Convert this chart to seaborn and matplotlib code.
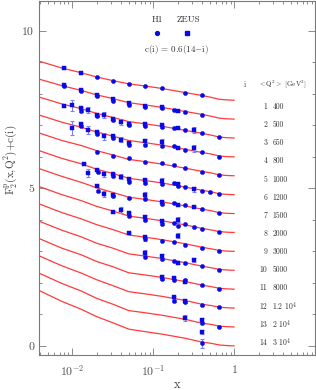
import numpy as np
import pandas as pd
import seaborn as sns
import matplotlib.pyplot as plt
from matplotlib.ticker import FixedLocator, FixedFormatter, LogLocator, MultipleLocator, NullFormatter

# bins: i, <Q^2> label, offset c(i) = 0.6(14-i)
bin_ids = list(range(1, 15))
q2_labels = ['400', '500', '650', '800', '1000', '1200', '1500', '2000', '3000', '5000',
             '8000', r'1.2 10$^4$', r'2 10$^4$', r'3 10$^4$']
offsets = [0.6 * (14 - i) for i in bin_ids]

# fit curves F2(x) (without offset)
fit_x = [0.0039, 0.0075, 0.013, 0.02, 0.032, 0.05, 0.08, 0.13, 0.25, 0.4, 0.52, 0.65, 0.8, 1.0]
fit_1 = [1.24, 1.02, 0.87, 0.74, 0.62, 0.52, 0.45, 0.37, 0.24, 0.15, 0.09, 0.03, 0.01, 0.0]
fit_2 = [1.27, 1.06, 0.91, 0.77, 0.65, 0.52, 0.45, 0.37, 0.24, 0.15, 0.09, 0.03, 0.01, 0.0]
fit_3 = [1.30, 1.08, 0.93, 0.78, 0.65, 0.52, 0.45, 0.37, 0.24, 0.15, 0.09, 0.03, 0.01, 0.0]
fit_4 = [1.33, 1.10, 0.94, 0.79, 0.66, 0.52, 0.45, 0.37, 0.24, 0.14, 0.09, 0.03, 0.01, 0.0]
fit_5 = [1.36, 1.12, 0.96, 0.80, 0.66, 0.52, 0.45, 0.37, 0.24, 0.14, 0.09, 0.03, 0.01, 0.0]
fit_6 = [1.40, 1.15, 0.98, 0.81, 0.67, 0.52, 0.45, 0.37, 0.24, 0.14, 0.09, 0.03, 0.01, 0.0]
fit_7 = [1.43, 1.18, 0.99, 0.82, 0.67, 0.52, 0.45, 0.37, 0.24, 0.14, 0.09, 0.03, 0.01, 0.0]
fit_8 = [1.46, 1.20, 1.01, 0.83, 0.68, 0.52, 0.45, 0.37, 0.24, 0.13, 0.08, 0.03, 0.01, 0.0]
fit_9 = [1.51, 1.23, 1.03, 0.85, 0.69, 0.52, 0.45, 0.37, 0.24, 0.13, 0.08, 0.03, 0.01, 0.0]
fit_10 = [1.56, 1.27, 1.06, 0.86, 0.70, 0.52, 0.45, 0.37, 0.24, 0.13, 0.08, 0.03, 0.01, 0.0]
fit_11 = [1.61, 1.30, 1.09, 0.88, 0.71, 0.52, 0.45, 0.37, 0.24, 0.13, 0.08, 0.03, 0.01, 0.0]
fit_12 = [1.66, 1.34, 1.11, 0.90, 0.71, 0.52, 0.45, 0.37, 0.24, 0.12, 0.08, 0.03, 0.01, 0.0]
fit_13 = [1.71, 1.38, 1.14, 0.91, 0.72, 0.52, 0.45, 0.37, 0.24, 0.12, 0.08, 0.03, 0.01, 0.0]
fit_14 = [1.76, 1.41, 1.16, 0.93, 0.73, 0.53, 0.45, 0.37, 0.24, 0.12, 0.08, 0.03, 0.01, 0.0]
fits = [fit_1, fit_2, fit_3, fit_4, fit_5, fit_6, fit_7, fit_8, fit_9, fit_10,
        fit_11, fit_12, fit_13, fit_14]

# H1 points
h1_bin = [1]*7 + [2]*10 + [3]*10 + [4]*10 + [5]*9 + [6]*11 + [7]*9 + [8]*9 + [9]*6 + [10]*6 + [11]*5 + [12]*4 + [13]*2 + [14]
h1_x = [0.02, 0.032, 0.05, 0.08, 0.13, 0.25, 0.4,
        0.0079, 0.0128, 0.02, 0.032, 0.05, 0.08, 0.13, 0.18, 0.25, 0.4,
        0.0128, 0.02, 0.032, 0.05, 0.08, 0.13, 0.18, 0.25, 0.4, 0.65,
        0.0128, 0.02, 0.032, 0.05, 0.08, 0.13, 0.18, 0.25, 0.4, 0.65,
        0.02, 0.032, 0.05, 0.08, 0.13, 0.18, 0.25, 0.4, 0.65,
        0.021, 0.032, 0.05, 0.08, 0.13, 0.18, 0.2, 0.25, 0.4, 0.5, 0.65,
        0.021, 0.032, 0.05, 0.08, 0.13, 0.18, 0.25, 0.4, 0.65,
        0.05, 0.08, 0.13, 0.18, 0.2, 0.25, 0.32, 0.4, 0.65,
        0.08, 0.13, 0.18, 0.25, 0.4, 0.65,
        0.08, 0.13, 0.18, 0.25, 0.4, 0.65,
        0.13, 0.18, 0.25, 0.4, 0.65,
        0.18, 0.25, 0.4, 0.65,
        0.4, 0.65,
        0.4]
h1_f2 = [0.73, 0.62, 0.52, 0.44, 0.38, 0.23, 0.15,
         1.04, 0.88, 0.73, 0.59, 0.46, 0.40, 0.34, 0.29, 0.22, 0.13,
         0.85, 0.69, 0.56, 0.40, 0.38, 0.35, 0.33, 0.26, 0.15, 0.03,
         0.97, 0.73, 0.60, 0.39, 0.37, 0.34, 0.35, 0.22, 0.14, 0.01,
         0.77, 0.64, 0.56, 0.43, 0.40, 0.35, 0.24, 0.11, 0.01,
         0.71, 0.58, 0.41, 0.38, 0.33, 0.36, 0.27, 0.26, 0.12, 0.07, 0.03,
         0.72, 0.56, 0.49, 0.46, 0.31, 0.35, 0.28, 0.13, 0.02,
         0.53, 0.40, 0.28, 0.31, 0.22, 0.26, 0.17, 0.11, 0.01,
         0.40, 0.34, 0.31, 0.21, 0.10, 0.00,
         0.42, 0.36, 0.28, 0.23, 0.14, 0.01,
         0.32, 0.30, 0.28, 0.12, 0.01,
         0.22, 0.18, 0.09, 0.02,
         0.12, 0.01,
         0.08]
h1_err = [0.02, 0.02, 0.015, 0.015, 0.015, 0.01, 0.01,
          0.03, 0.02, 0.02, 0.02, 0.02, 0.02, 0.02, 0.015, 0.015, 0.01,
          0.03, 0.02, 0.02, 0.02, 0.02, 0.02, 0.02, 0.015, 0.01, 0.01,
          0.03, 0.03, 0.02, 0.02, 0.03, 0.03, 0.02, 0.015, 0.01, 0.01,
          0.02, 0.02, 0.02, 0.02, 0.02, 0.02, 0.015, 0.01, 0.01,
          0.02, 0.02, 0.02, 0.03, 0.03, 0.02, 0.02, 0.02, 0.01, 0.01, 0.01,
          0.03, 0.03, 0.02, 0.03, 0.03, 0.02, 0.02, 0.01, 0.01,
          0.03, 0.03, 0.03, 0.02, 0.02, 0.02, 0.02, 0.01, 0.01,
          0.06, 0.02, 0.02, 0.02, 0.01, 0.01,
          0.03, 0.03, 0.02, 0.02, 0.015, 0.01,
          0.03, 0.03, 0.03, 0.02, 0.01,
          0.04, 0.03, 0.02, 0.01,
          0.04, 0.02,
          0.15]

# ZEUS points
zeus_bin = [1]*2 + [2]*8 + [3]*13 + [4]*12 + [6]*11 + [7]*7 + [8]*6 + [9]*3 + [10]*4 + [11]*3 + [12]*2 + [13]*2 + [14]
zeus_x = [0.0079, 0.0128,
          0.0079, 0.0128, 0.02, 0.032, 0.05, 0.08, 0.13, 0.2,
          0.0079, 0.01, 0.0128, 0.0158, 0.02, 0.025, 0.032, 0.04, 0.05, 0.08, 0.13, 0.2, 0.32,
          0.01, 0.0128, 0.0158, 0.02, 0.025, 0.032, 0.04, 0.05, 0.08, 0.13, 0.2, 0.32,
          0.0139, 0.0158, 0.02, 0.025, 0.032, 0.04, 0.05, 0.08, 0.13, 0.2, 0.32,
          0.02, 0.025, 0.032, 0.08, 0.13, 0.2, 0.32,
          0.032, 0.04, 0.05, 0.08, 0.13, 0.2,
          0.05, 0.08, 0.2,
          0.08, 0.13, 0.2, 0.32,
          0.13, 0.18, 0.25,
          0.18, 0.25,
          0.25, 0.4,
          0.4]
zeus_f2 = [1.02, 0.85,
           1.09, 0.93, 0.78, 0.63, 0.50, 0.43, 0.38, 0.25,
           1.02, 1.04, 0.95, 0.89, 0.74, 0.72, 0.61, 0.50, 0.46, 0.43, 0.42, 0.31, 0.25,
           0.92, 1.05, 0.85, 0.80, 0.65, 0.67, 0.54, 0.45, 0.50, 0.48, 0.28, 0.27,
           0.97, 0.68, 0.77, 0.66, 0.66, 0.57, 0.50, 0.47, 0.45, 0.33, 0.18,
           0.88, 0.62, 0.59, 0.60, 0.37, 0.28, 0.20,
           0.66, 0.71, 0.62, 0.48, 0.37, 0.40,
           0.58, 0.47, 0.50,
           0.56, 0.45, 0.24, 0.33,
           0.40, 0.35, 0.22,
           0.34, 0.24,
           0.28, 0.21,
           0.45]
zeus_err = [0.03, 0.02,
            0.04, 0.03, 0.03, 0.02, 0.02, 0.02, 0.03, 0.02,
            0.03, 0.17, 0.03, 0.10, 0.03, 0.10, 0.02, 0.09, 0.02, 0.02, 0.03, 0.02, 0.10,
            0.22, 0.03, 0.12, 0.03, 0.10, 0.03, 0.08, 0.03, 0.08, 0.08, 0.02, 0.10,
            0.04, 0.12, 0.03, 0.10, 0.03, 0.08, 0.03, 0.03, 0.08, 0.03, 0.08,
            0.04, 0.10, 0.03, 0.08, 0.04, 0.03, 0.03,
            0.03, 0.09, 0.03, 0.08, 0.04, 0.08,
            0.03, 0.03, 0.07,
            0.07, 0.07, 0.03, 0.06,
            0.04, 0.04, 0.03,
            0.04, 0.04,
            0.10, 0.07,
            0.06]

# long tables with the offsets applied
fit_df = pd.DataFrame({
    'x': np.tile(fit_x, len(bin_ids)),
    'bin': np.repeat(bin_ids, len(fit_x)),
    'y': np.concatenate([np.array(f) + c for f, c in zip(fits, offsets)]),
})
h1_df = pd.DataFrame({'x': h1_x, 'bin': h1_bin, 'err': h1_err,
                      'y': [f + offsets[b - 1] for f, b in zip(h1_f2, h1_bin)]})
zeus_df = pd.DataFrame({'x': zeus_x, 'bin': zeus_bin, 'err': zeus_err,
                        'y': [f + offsets[b - 1] for f, b in zip(zeus_f2, zeus_bin)]})

sns.set_style('ticks')
plt.rcParams['font.family'] = ['cmr10', 'DejaVu Serif']
plt.rcParams['mathtext.fontset'] = 'cm'
plt.rcParams['axes.unicode_minus'] = False

grey = '#7a7a7a'
red = '#ff3b3b'
blue = '#0a0ae6'
light = '#7f7fff'

fig = plt.figure(figsize=(3.16, 3.90), dpi=100)
ax = fig.add_axes([39 / 316, 35 / 390, 276 / 316, 354 / 390])
ax.set_xscale('log')

sns.lineplot(data=fit_df, x='x', y='y', hue='bin', units='bin', estimator=None, sort=False,
             palette=[red] * 14, legend=False, lw=0.9, ax=ax)

for df, mk in [(h1_df, 'o'), (zeus_df, 's')]:
    ax.errorbar(df['x'], df['y'], yerr=df['err'], fmt='none', ecolor=light,
                elinewidth=0.8, capsize=1.6, capthick=0.8, zorder=3)
    sns.scatterplot(data=df, x='x', y='y', marker=mk, s=9, color=blue,
                    edgecolor=blue, linewidth=0.3, zorder=4, ax=ax)

ax.set_xlim(0.0039, 9.9)
ax.set_ylim(-0.29, 10.95)

ax.xaxis.set_major_locator(FixedLocator([0.01, 0.1, 1]))
ax.xaxis.set_major_formatter(FixedFormatter([r'$10^{-2}$', r'$10^{-1}$', r'$1$']))
ax.xaxis.set_minor_locator(LogLocator(base=10, subs=np.arange(2, 10), numticks=20))
ax.xaxis.set_minor_formatter(NullFormatter())
ax.yaxis.set_major_locator(FixedLocator([0, 5, 10]))
ax.yaxis.set_minor_locator(MultipleLocator(1))

ax.tick_params(which='both', direction='in', top=True, right=True, color=grey,
               labelcolor='#505050', labelsize=8.5, width=0.6)
ax.tick_params(which='major', length=5)
ax.tick_params(which='minor', length=2.5)
ax.tick_params(axis='x', pad=6)
for s in ax.spines.values():
    s.set_color(grey)
    s.set_linewidth(0.8)

ax.set_xlabel('x', fontsize=9, color='#404040')
ax.xaxis.set_label_coords(0.5, -0.068)
ax.set_ylabel(r'F$_2^{\rm p}$(x,Q$^2$)+c(i)', fontsize=8, color='#404040')
ax.yaxis.set_label_coords(-0.072, 0.55)

# legend block drawn as text
txt = dict(fontsize=6.5, color='#303030', ha='center', va='center')
ax.text(0.112, 10.35, 'H1', **txt)
ax.text(0.27, 10.35, 'ZEUS', **txt)
ax.plot([0.111], [9.94], 'o', ms=2.8, color=blue)
ax.plot([0.26], [9.94], 's', ms=2.8, color=blue)
ax.text(0.195, 9.4, r'c(i) = 0.6(14$-$i)', **txt)

# bin labels on the right
lab = dict(fontsize=5.5, color='#303030', va='center')
ax.text(1.36, 8.29, 'i', ha='center', **lab)
ax.text(1.95, 8.29, r'$<$Q$^2$$>$ [GeV$^2$]', ha='left', fontsize=5, color='#303030', va='center')
for k, (i, q) in enumerate(zip(bin_ids, q2_labels)):
    yy = 7.59 - k * 0.576
    ax.text(2.55, yy, str(i), ha='right', **lab)
    ax.text(2.95, yy, q, ha='left', **lab)

fig.savefig('out.png', dpi=100)
